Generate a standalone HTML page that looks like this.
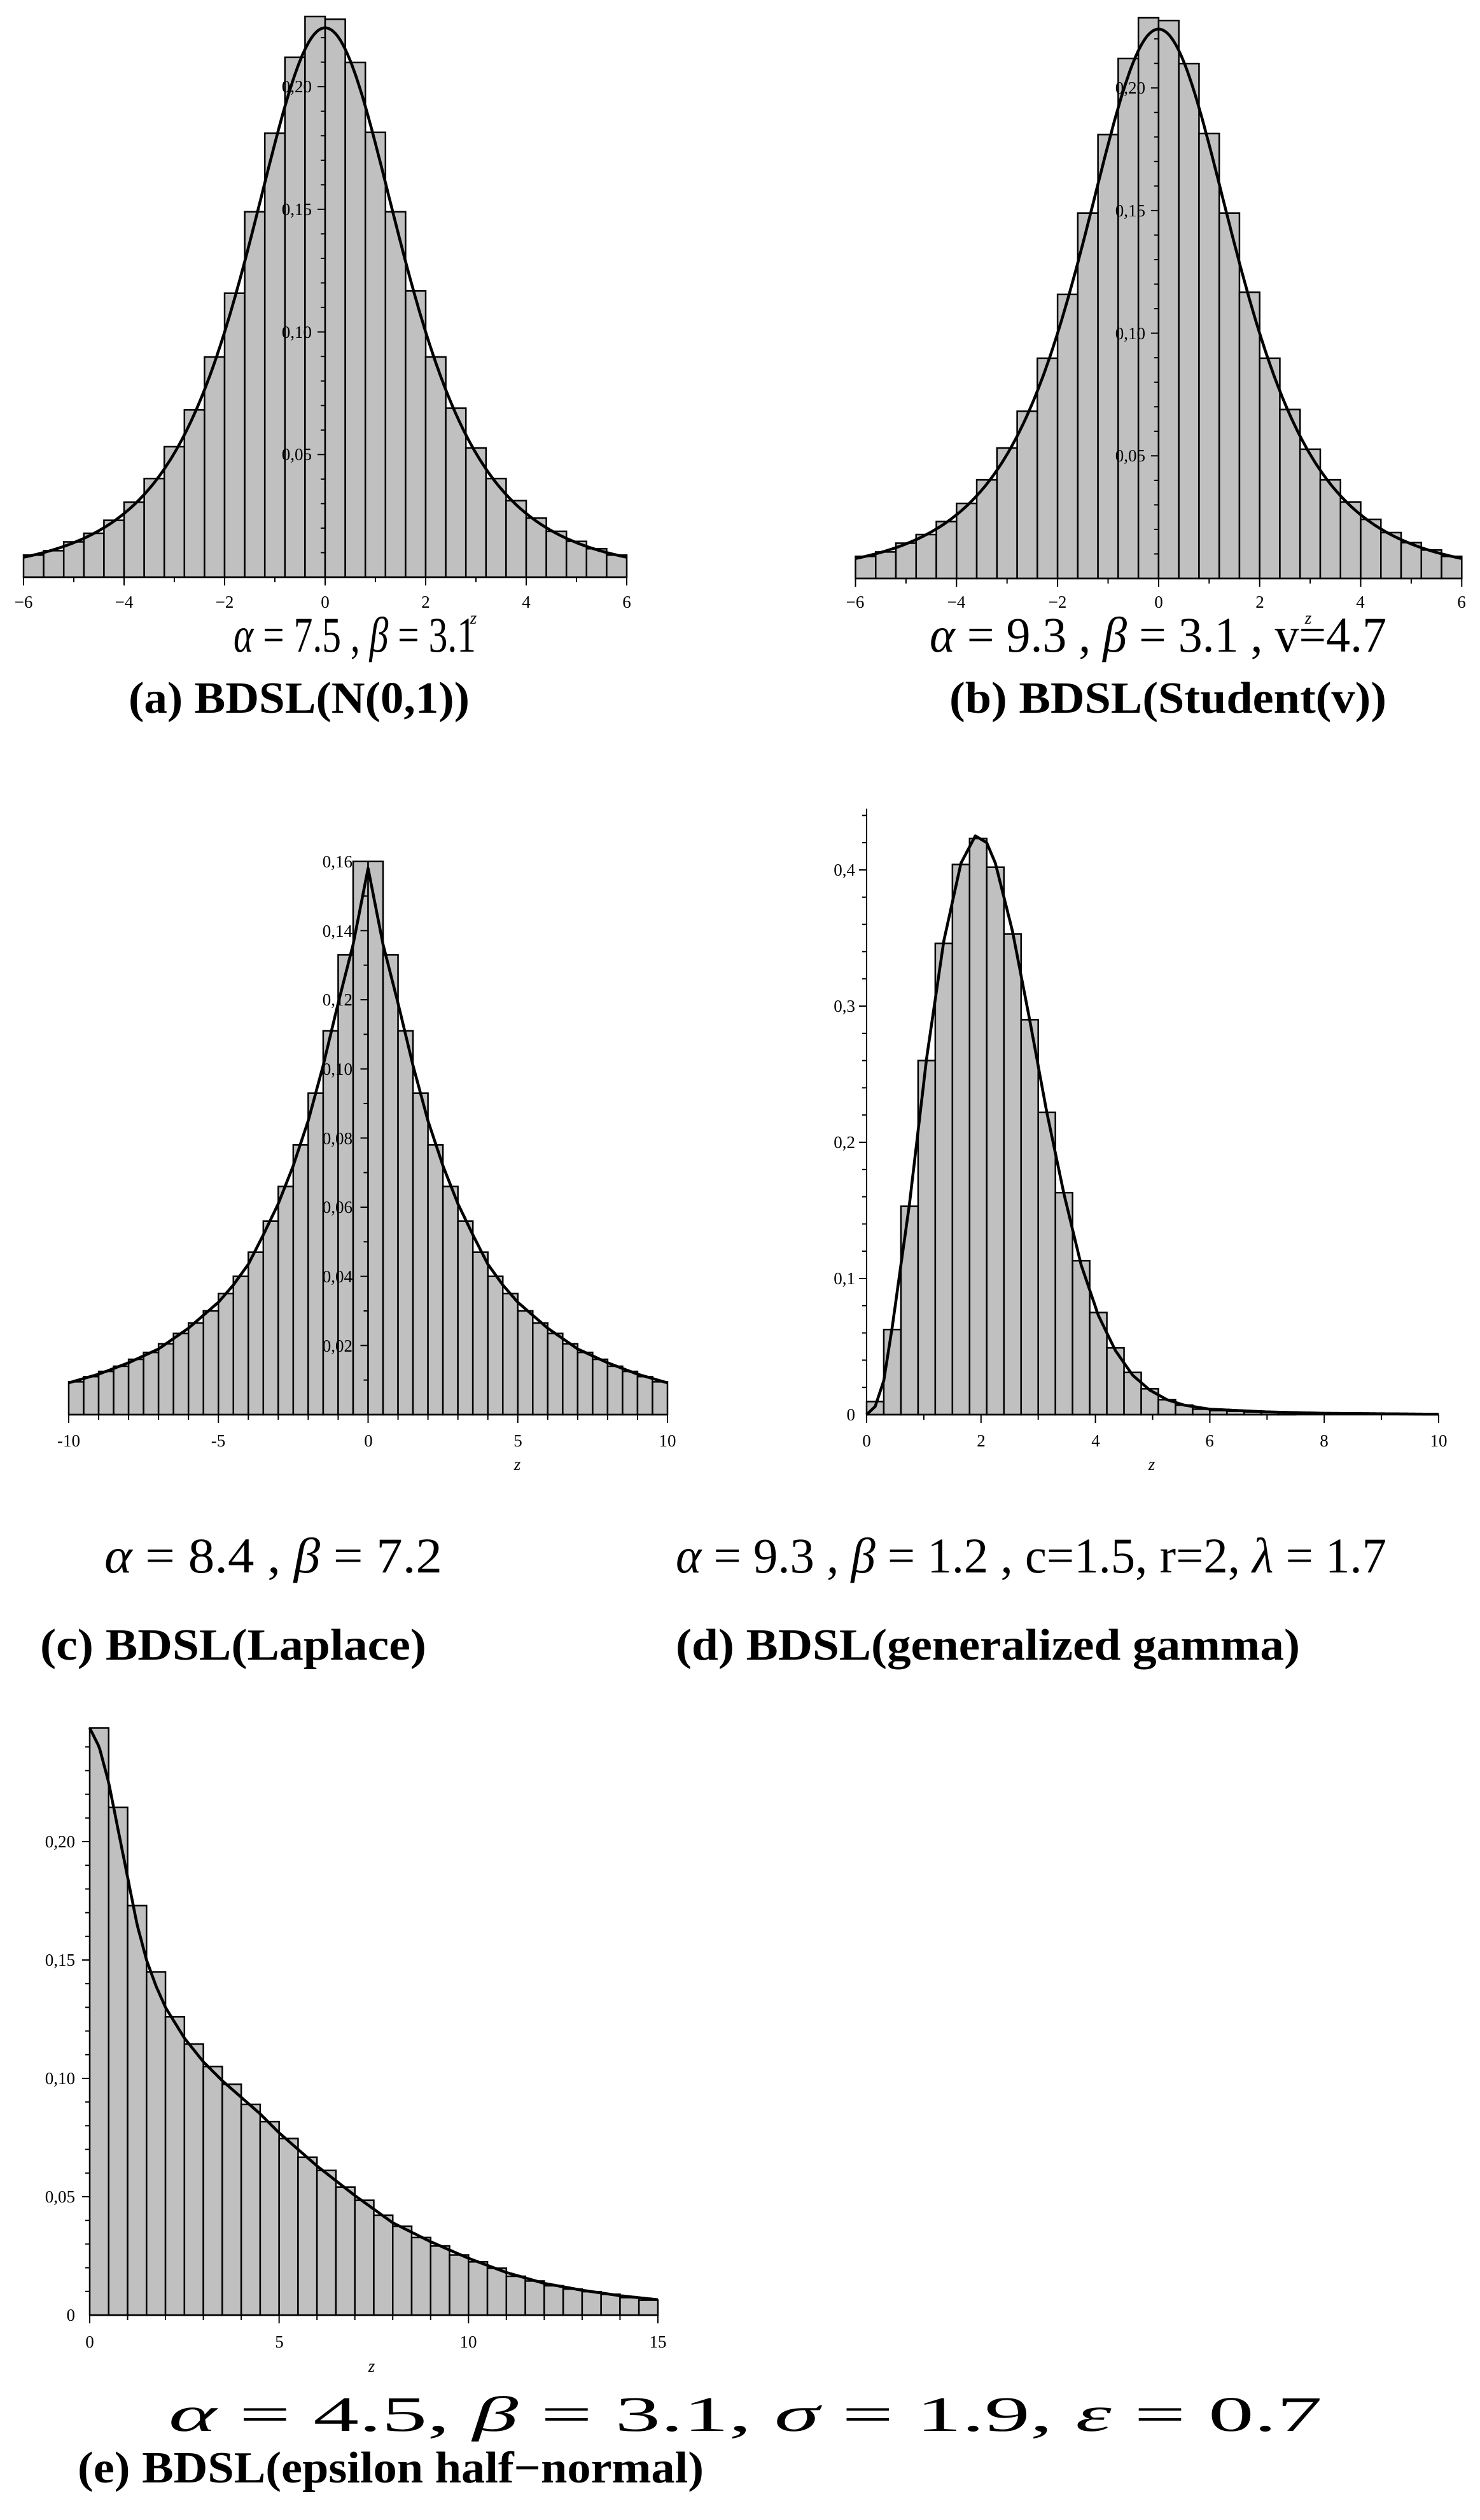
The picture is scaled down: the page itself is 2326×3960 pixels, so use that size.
<!DOCTYPE html>
<html><head><meta charset="utf-8"><style>
html,body{margin:0;padding:0;background:#fff;}
svg{display:block;}
.tk{font-family:"Liberation Serif",serif;font-size:27px;fill:#000;}
.al{font-family:"Liberation Serif",serif;font-size:78px;}
.cap{font-family:"Liberation Serif",serif;font-size:70px;font-weight:bold;}
</style></head><body>
<svg id="s" width="2326" height="3960" viewBox="0 0 2326 3960" xmlns="http://www.w3.org/2000/svg">
<rect width="2326" height="3960" fill="#fff"/>
<g id="plots"></g>
<g class="tk" text-anchor="middle">
<text x="37" y="955">−6</text><text x="195" y="955">−4</text><text x="353" y="955">−2</text><text x="511" y="955">0</text><text x="669" y="955">2</text><text x="827" y="955">4</text><text x="985" y="955">6</text>
<text x="744" y="980" font-style="italic">z</text>
<text x="1344" y="955">−6</text><text x="1503" y="955">−4</text><text x="1662" y="955">−2</text><text x="1821" y="955">0</text><text x="1980" y="955">2</text><text x="2138" y="955">4</text><text x="2297" y="955">6</text>
<text x="2056" y="980" font-style="italic">z</text>
<text x="108" y="2273">-10</text><text x="343" y="2273">-5</text><text x="579" y="2273">0</text><text x="814" y="2273">5</text><text x="1049" y="2273">10</text>
<text x="813" y="2310" font-style="italic">z</text>
<text x="1362" y="2273">0</text><text x="1542" y="2273">2</text><text x="1722" y="2273">4</text><text x="1901" y="2273">6</text><text x="2081" y="2273">8</text><text x="2261" y="2273">10</text>
<text x="1810" y="2310" font-style="italic">z</text>
<text x="141" y="3689">0</text><text x="439" y="3689">5</text><text x="736" y="3689">10</text><text x="1034" y="3689">15</text>
<text x="584" y="3727" font-style="italic">z</text>
</g>
<g class="tk" text-anchor="end">
<text x="490" y="723">0,05</text><text x="490" y="531">0,10</text><text x="490" y="338">0,15</text><text x="490" y="145">0,20</text>
<text x="1800" y="725">0,05</text><text x="1800" y="533">0,10</text><text x="1800" y="340">0,15</text><text x="1800" y="147">0,20</text>
<text x="554" y="2124">0,02</text><text x="554" y="2015">0,04</text><text x="554" y="1906">0,06</text><text x="554" y="1798">0,08</text><text x="554" y="1689">0,10</text><text x="554" y="1580">0,12</text><text x="554" y="1472">0,14</text><text x="554" y="1363">0,16</text>
<text x="1344" y="2232">0</text><text x="1344" y="2018">0,1</text><text x="1344" y="1804">0,2</text><text x="1344" y="1590">0,3</text><text x="1344" y="1376">0,4</text>
<text x="118" y="3647">0</text><text x="118" y="3461">0,05</text><text x="118" y="3275">0,10</text><text x="118" y="3089">0,15</text><text x="118" y="2903">0,20</text>
</g>
<text class="al" x="367" y="1024" textLength="381" lengthAdjust="spacingAndGlyphs"><tspan font-style="italic">α</tspan> = 7.5 ,  <tspan font-style="italic">β</tspan> = 3.1</text>
<text class="cap" x="202" y="1120" textLength="536" lengthAdjust="spacingAndGlyphs">(a) BDSL(N(0,1))</text>
<text class="al" x="1461" y="1024" textLength="718" lengthAdjust="spacingAndGlyphs"><tspan font-style="italic">α</tspan> = 9.3 ,  <tspan font-style="italic">β</tspan> = 3.1 , v=4.7</text>
<text class="cap" x="1492" y="1120" textLength="687" lengthAdjust="spacingAndGlyphs">(b) BDSL(Student(v))</text>
<text class="al" x="164" y="2471" font-size="76" textLength="531" lengthAdjust="spacingAndGlyphs"><tspan font-style="italic">α</tspan> = 8.4 ,  <tspan font-style="italic">β</tspan> = 7.2</text>
<text class="cap" x="63" y="2608" font-size="76" textLength="607" lengthAdjust="spacingAndGlyphs">(c)  BDSL(Laplace)</text>
<text class="al" x="1062" y="2471" font-size="76" textLength="1117" lengthAdjust="spacingAndGlyphs"><tspan font-style="italic">α</tspan> = 9.3 ,  <tspan font-style="italic">β</tspan> = 1.2 , c=1.5, r=2, <tspan font-style="italic">λ</tspan> = 1.7</text>
<text class="cap" x="1062" y="2608" font-size="76" textLength="981" lengthAdjust="spacingAndGlyphs">(d) BDSL(generalized gamma)</text>
<text class="al" x="265" y="3820" font-size="76" textLength="1813" lengthAdjust="spacingAndGlyphs"><tspan font-style="italic">α</tspan> = 4.5,  <tspan font-style="italic">β</tspan> = 3.1, <tspan font-style="italic">σ</tspan> = 1.9, <tspan font-style="italic">ε</tspan> = 0.7</text>
<text class="cap" x="122" y="3901" textLength="984" lengthAdjust="spacingAndGlyphs">(e) BDSL(epsilon half−normal)</text>
</svg>
<script>
(function(){
var NS="http://www.w3.org/2000/svg",G=document.getElementById("plots");
function el(n,a){var e=document.createElementNS(NS,n);for(var k in a)e.setAttribute(k,a[k]);G.appendChild(e);return e;}
function interp(pts,z){if(z<=pts[0][0])return pts[0][1];for(var i=1;i<pts.length;i++){if(z<=pts[i][0]){var a=pts[i-1],b=pts[i],t=(z-a[0])/(b[0]-a[0]);return a[1]+(b[1]-a[1])*t;}}return pts[pts.length-1][1];}
function plot(c){
 var X=function(z){return c.x0+(z-c.zmin)*c.sx;},Y=function(v){return c.by-v*c.sy;};
 for(var i=0;i<c.bars.length;i++){var z=c.bstart+i*c.bw;var h=c.bars[i]*c.sy;
  el("rect",{x:X(z),y:c.by-h,width:c.bw*c.sx,height:h,fill:"#c0c0c0",stroke:"#000","stroke-width":2.5});}
 el("line",{x1:X(c.zmin),y1:c.by,x2:X(c.zmax),y2:c.by,stroke:"#000","stroke-width":2.5});
 for(var t=c.zmin;t<=c.zmax+1e-9;t+=c.xminor){var maj=Math.abs(Math.round(t/c.xmajor)*c.xmajor-t)<1e-6;
  el("line",{x1:X(t),y1:c.by,x2:X(t),y2:c.by+(maj?13:8),stroke:"#000","stroke-width":2});}
 var ax=X(c.ax);
 el("line",{x1:ax,y1:c.by,x2:ax,y2:Y(c.ytop),stroke:"#000","stroke-width":2});
 for(var v=c.yminor;v<=c.ytop+1e-9;v+=c.yminor){var m=Math.abs(Math.round(v/c.ymajor)*c.ymajor-v)<1e-6;
  el("line",{x1:ax-(m?12:7),y1:Y(v),x2:ax,y2:Y(v),stroke:"#000","stroke-width":2});}
 var d="",N=400;for(var k=0;k<=N;k++){var zz=c.czmin+(c.czmax-c.czmin)*k/N;var vv=c.f(zz);d+=(k?"L":"M")+X(zz).toFixed(1)+" "+Y(vv).toFixed(1);}
 el("path",{d:d,fill:"none",stroke:"#000","stroke-width":4.5,"stroke-linejoin":"round"});
}
var barsAB=[0.009,0.0108,0.0144,0.0179,0.0232,0.0306,0.0402,0.0532,0.0682,0.0898,0.1158,0.149,0.181,0.212,0.2286,0.2275,0.2099,0.1814,0.149,0.1167,0.0898,0.0689,0.0527,0.0402,0.0312,0.0241,0.0187,0.0146,0.0116,0.009];
var fAB=function(z){return 0.224*Math.pow(1+z*z/7.5,-1.887);};
plot({x0:37,zmin:-6,zmax:6,sx:79,by:907,sy:3854,bars:barsAB,bstart:-6,bw:0.4,xminor:1,xmajor:2,ax:0,ytop:0.228,yminor:0.01,ymajor:0.05,f:fAB,czmin:-6,czmax:6});
plot({x0:1344.5,zmin:-6,zmax:6,sx:79.4,by:909,sy:3854,bars:barsAB,bstart:-6,bw:0.4,xminor:1,xmajor:2,ax:0,ytop:0.228,yminor:0.01,ymajor:0.05,f:fAB,czmin:-6,czmax:6});
var half=[0.16,0.133,0.111,0.093,0.078,0.066,0.056,0.047,0.040,0.035,0.030,0.0265,0.0235,0.0205,0.018,0.016,0.014,0.0125,0.011,0.0095];
var barsC=half.slice().reverse().concat(half);
var pc=[[0,0.158],[0.5,0.136],[1,0.119],[1.5,0.101],[2,0.085],[2.5,0.072],[3,0.061],[3.5,0.052],[4,0.0435],[4.5,0.0375],[5,0.0325],[6,0.025],[7,0.019],[8,0.015],[9,0.0117],[10,0.0092]];
plot({x0:108,zmin:-10,zmax:10,sx:47.05,by:2223,sy:5433,bars:barsC,bstart:-10,bw:0.5,xminor:1,xmajor:5,ax:0,ytop:0.16,yminor:0.01,ymajor:0.02,f:function(z){return interp(pc,Math.abs(z));},czmin:-10,czmax:10});
var barsD=[0.0096,0.0625,0.153,0.26,0.346,0.404,0.423,0.402,0.353,0.29,0.222,0.163,0.113,0.075,0.049,0.031,0.019,0.011,0.007,0.004,0.003,0.0025,0.002,0.0018,0.0015];
var pd=[[0,0],[0.15,0.006],[0.3,0.025],[0.45,0.065],[0.75,0.155],[1.05,0.262],[1.35,0.348],[1.65,0.405],[1.9,0.425],[2.1,0.42],[2.25,0.405],[2.55,0.355],[2.85,0.29],[3.15,0.222],[3.45,0.162],[3.75,0.11],[4.05,0.073],[4.35,0.047],[4.65,0.029],[4.95,0.018],[5.25,0.011],[5.55,0.007],[6,0.004],[7,0.002],[8,0.001],[10,0.0003]];
plot({x0:1362,zmin:0,zmax:10,sx:89.9,by:2223,sy:2140,bars:barsD,bstart:0,bw:0.3,xminor:1,xmajor:2,ax:0,ytop:0.445,yminor:0.02,ymajor:0.1,f:function(z){return interp(pd,z);},czmin:0,czmax:10});
var barsE=[0.248,0.2145,0.173,0.145,0.126,0.1145,0.105,0.0975,0.089,0.0817,0.0746,0.0667,0.0611,0.0541,0.0485,0.0422,0.0375,0.0328,0.0292,0.0254,0.0225,0.0198,0.0164,0.0144,0.0124,0.011,0.0099,0.0088,0.0074,0.0063];
var pe=[[0,0.248],[0.25,0.24],[0.5,0.225],[0.75,0.205],[1,0.185],[1.25,0.165],[1.5,0.15],[1.75,0.139],[2,0.13],[2.5,0.117],[3,0.107],[3.5,0.099],[4,0.092],[4.5,0.085],[5,0.077],[6,0.063],[7,0.0505],[8,0.039],[9,0.031],[10,0.024],[11,0.018],[12,0.0134],[13,0.0105],[14,0.0082],[15,0.0065]];
plot({x0:141,zmin:0,zmax:15,sx:59.53,by:3638,sy:3720,bars:barsE,bstart:0,bw:0.5,xminor:1,xmajor:5,ax:0,ytop:0.248,yminor:0.01,ymajor:0.05,f:function(z){return interp(pe,z);},czmin:0,czmax:15});
})();
</script>
</body></html>
